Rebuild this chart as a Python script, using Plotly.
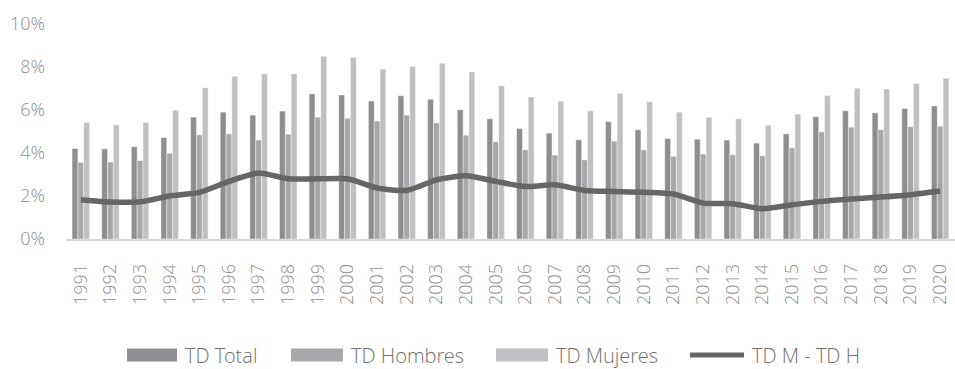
import plotly.graph_objects as go

# Tasas de desempleo (%) por año
years = [str(y) for y in range(1991, 2021)]

td_total = [4.21, 4.19, 4.29, 4.72, 5.67, 5.90, 5.76, 5.95, 6.75, 6.70,
            6.42, 6.66, 6.50, 6.01, 5.59, 5.14, 4.92, 4.61, 5.46, 5.08,
            4.67, 4.64, 4.60, 4.46, 4.89, 5.69, 5.96, 5.87, 6.07, 6.19]

td_hombres = [3.56, 3.58, 3.65, 3.99, 4.84, 4.89, 4.60, 4.88, 5.67, 5.62,
              5.49, 5.76, 5.40, 4.83, 4.52, 4.15, 3.90, 3.68, 4.55, 4.15,
              3.84, 3.95, 3.92, 3.87, 4.24, 4.98, 5.20, 5.08, 5.22, 5.25]

td_mujeres = [5.42, 5.31, 5.42, 5.99, 7.04, 7.57, 7.68, 7.69, 8.50, 8.45,
              7.89, 8.03, 8.17, 7.77, 7.13, 6.60, 6.41, 5.96, 6.78, 6.38,
              5.90, 5.67, 5.59, 5.29, 5.81, 6.67, 7.01, 6.98, 7.23, 7.48]

td_brecha = [1.83, 1.72, 1.73, 2.00, 2.17, 2.68, 3.07, 2.80, 2.80, 2.80,
             2.37, 2.26, 2.75, 2.94, 2.68, 2.44, 2.52, 2.26, 2.21, 2.17,
             2.09, 1.67, 1.64, 1.41, 1.59, 1.75, 1.86, 1.95, 2.06, 2.23]

series_names = ["TD Total", "TD Hombres", "TD Mujeres", "TD M - TD H"]

C_TOTAL = "#8e8e90"
C_HOMBRES = "#a8a8aa"
C_MUJERES = "#c0c0c3"
C_LINE = "#666666"
TICK_COLOR = "#8f8f8f"
LEGEND_COLOR = "#707070"
FONT = "Open Sans Light, Open Sans"

fig = go.Figure()
for vals, color, name in [(td_total, C_TOTAL, series_names[0]),
                          (td_hombres, C_HOMBRES, series_names[1]),
                          (td_mujeres, C_MUJERES, series_names[2])]:
    fig.add_trace(go.Bar(x=years, y=vals, name=name, marker_color=color,
                         marker_line=dict(color="rgba(255,255,255,0.7)", width=0.6)))

fig.add_trace(go.Scatter(x=years, y=td_brecha, name=series_names[3], mode="lines",
                         line=dict(color=C_LINE, width=5.5, shape="spline", smoothing=0.6)))

W, H = 955, 369
ML, MR, MT, MB = 66, 0, 24, 130
pw = W - ML - MR
ph = H - MT - MB


def px_x(x):
    return (x - ML) / pw


def px_y(y):
    return (H - MB - y) / ph


# Leyenda dibujada a mano: rectángulos anchos y una línea gruesa
items = [("rect", C_TOTAL, 127, 177, series_names[0]),
         ("rect", C_HOMBRES, 291, 343, series_names[1]),
         ("rect", C_MUJERES, 496, 548, series_names[2]),
         ("line", C_LINE, 690, 744, series_names[3])]

shapes = []
annotations = []
cy = 355
for kind, color, x0, x1, label in items:
    if kind == "rect":
        shapes.append(dict(type="rect", xref="paper", yref="paper",
                           x0=px_x(x0), x1=px_x(x1), y0=px_y(cy + 6.5), y1=px_y(cy - 6.5),
                           fillcolor=color, line=dict(width=0)))
    else:
        shapes.append(dict(type="line", xref="paper", yref="paper",
                           x0=px_x(x0), x1=px_x(x1), y0=px_y(cy), y1=px_y(cy),
                           line=dict(color=color, width=5)))
    annotations.append(dict(text=label, xref="paper", yref="paper",
                            x=px_x(x1 + 7), y=px_y(cy), xanchor="left", yanchor="middle",
                            showarrow=False, borderpad=0,
                            font=dict(family=FONT, size=20, color=LEGEND_COLOR, weight=300)))

fig.update_layout(
    width=W, height=H,
    margin=dict(l=ML, r=MR, t=MT, b=MB),
    paper_bgcolor="white", plot_bgcolor="white",
    barmode="group", bargap=0.41, bargroupgap=0,
    showlegend=False,
    shapes=shapes, annotations=annotations,
    font=dict(family=FONT, color=TICK_COLOR),
)

fig.update_xaxes(type="category", showgrid=False, showline=True,
                 linecolor="#d9d9d9", linewidth=1.5, tickangle=-90,
                 ticks="", ticklabelstandoff=16,
                 tickfont=dict(family=FONT, size=18, color=TICK_COLOR, weight=300))
fig.update_yaxes(range=[0, 10], dtick=2, ticksuffix="%", showgrid=False,
                 zeroline=False, showline=False, ticks="", ticklabelstandoff=20,
                 tickfont=dict(family=FONT, size=18, color=TICK_COLOR, weight=300))

fig.write_html("out.html")
